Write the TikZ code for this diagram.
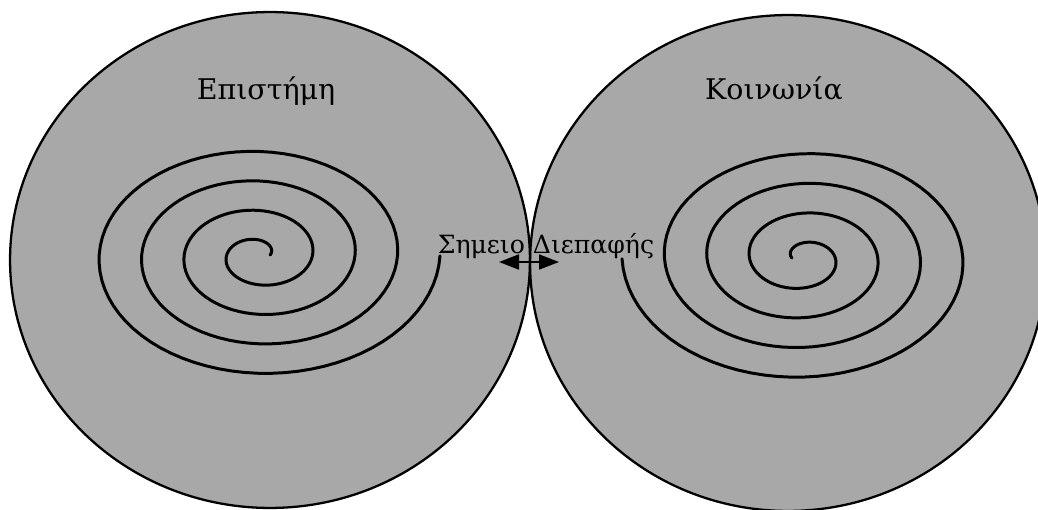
\documentclass[tikz,border=0pt]{standalone}
\usepackage{fontspec}
\setmainfont{DejaVu Serif}
\usetikzlibrary{arrows.meta}
\definecolor{fondo}{RGB}{168,168,168}

\begin{document}
\begin{tikzpicture}[
    x=0.02cm, y=-0.02cm,
    font=\fontsize{16.2}{19}\selectfont,
    zona/.style={fill=fondo},
    borde/.style={line width=1.3pt},
    espiral/.style={line width=1.7pt, line cap=round},
    rotulo/.style={inner sep=0pt, anchor=base},
    punta/.tip={Triangle[length=0.4cm, width=0.3cm]},
    flecha/.style={punta-punta, line width=1pt}
  ]
    \useasboundingbox (0,0) rectangle (1038,510);
    \begin{scope}
      \clip (0,0) rectangle (1038,510);
      % --- Zonas (relleno y borde) ---
      \fill[zona] (270,260) ellipse [x radius=5.2cm, y radius=4.96cm];
      \fill[zona] (788,263) ellipse [x radius=5.16cm, y radius=4.96cm];
      \draw[borde] (270,260) ellipse [x radius=5.2cm, y radius=4.96cm];
      \draw[borde] (788,263) ellipse [x radius=5.16cm, y radius=4.96cm];
    \end{scope}

    % --- Espirales ---
    \draw[espiral] plot[domain=0:4, samples=321]
      ({259+42.5*(\x+0.26)*cos(360*\x)}, {255-29.5*(\x+0.26)*sin(360*\x)});
    \draw[espiral] plot[domain=0:4, samples=321]
      ({803-42.5*(\x+0.26)*cos(360*\x)}, {258-29.7*(\x+0.26)*sin(360*\x)});

    % --- Rotulos ---
    \node[rotulo] (episteme) at (266,100) {Επιστήμη};
    \node[rotulo] (koinonia) at (774,100) {Κοινωνία};
    \node[rotulo, font=\fontsize{14.3}{17}\selectfont] (diepafi) at (546,253)
      {Σημειο Διεπαφής};

    % --- Flecha ---
    \coordinate (puntoL) at (499,262);
    \coordinate (puntoR) at (559,262);
    \draw[flecha] (puntoL) -- (puntoR);
  \end{tikzpicture}
\end{document}
